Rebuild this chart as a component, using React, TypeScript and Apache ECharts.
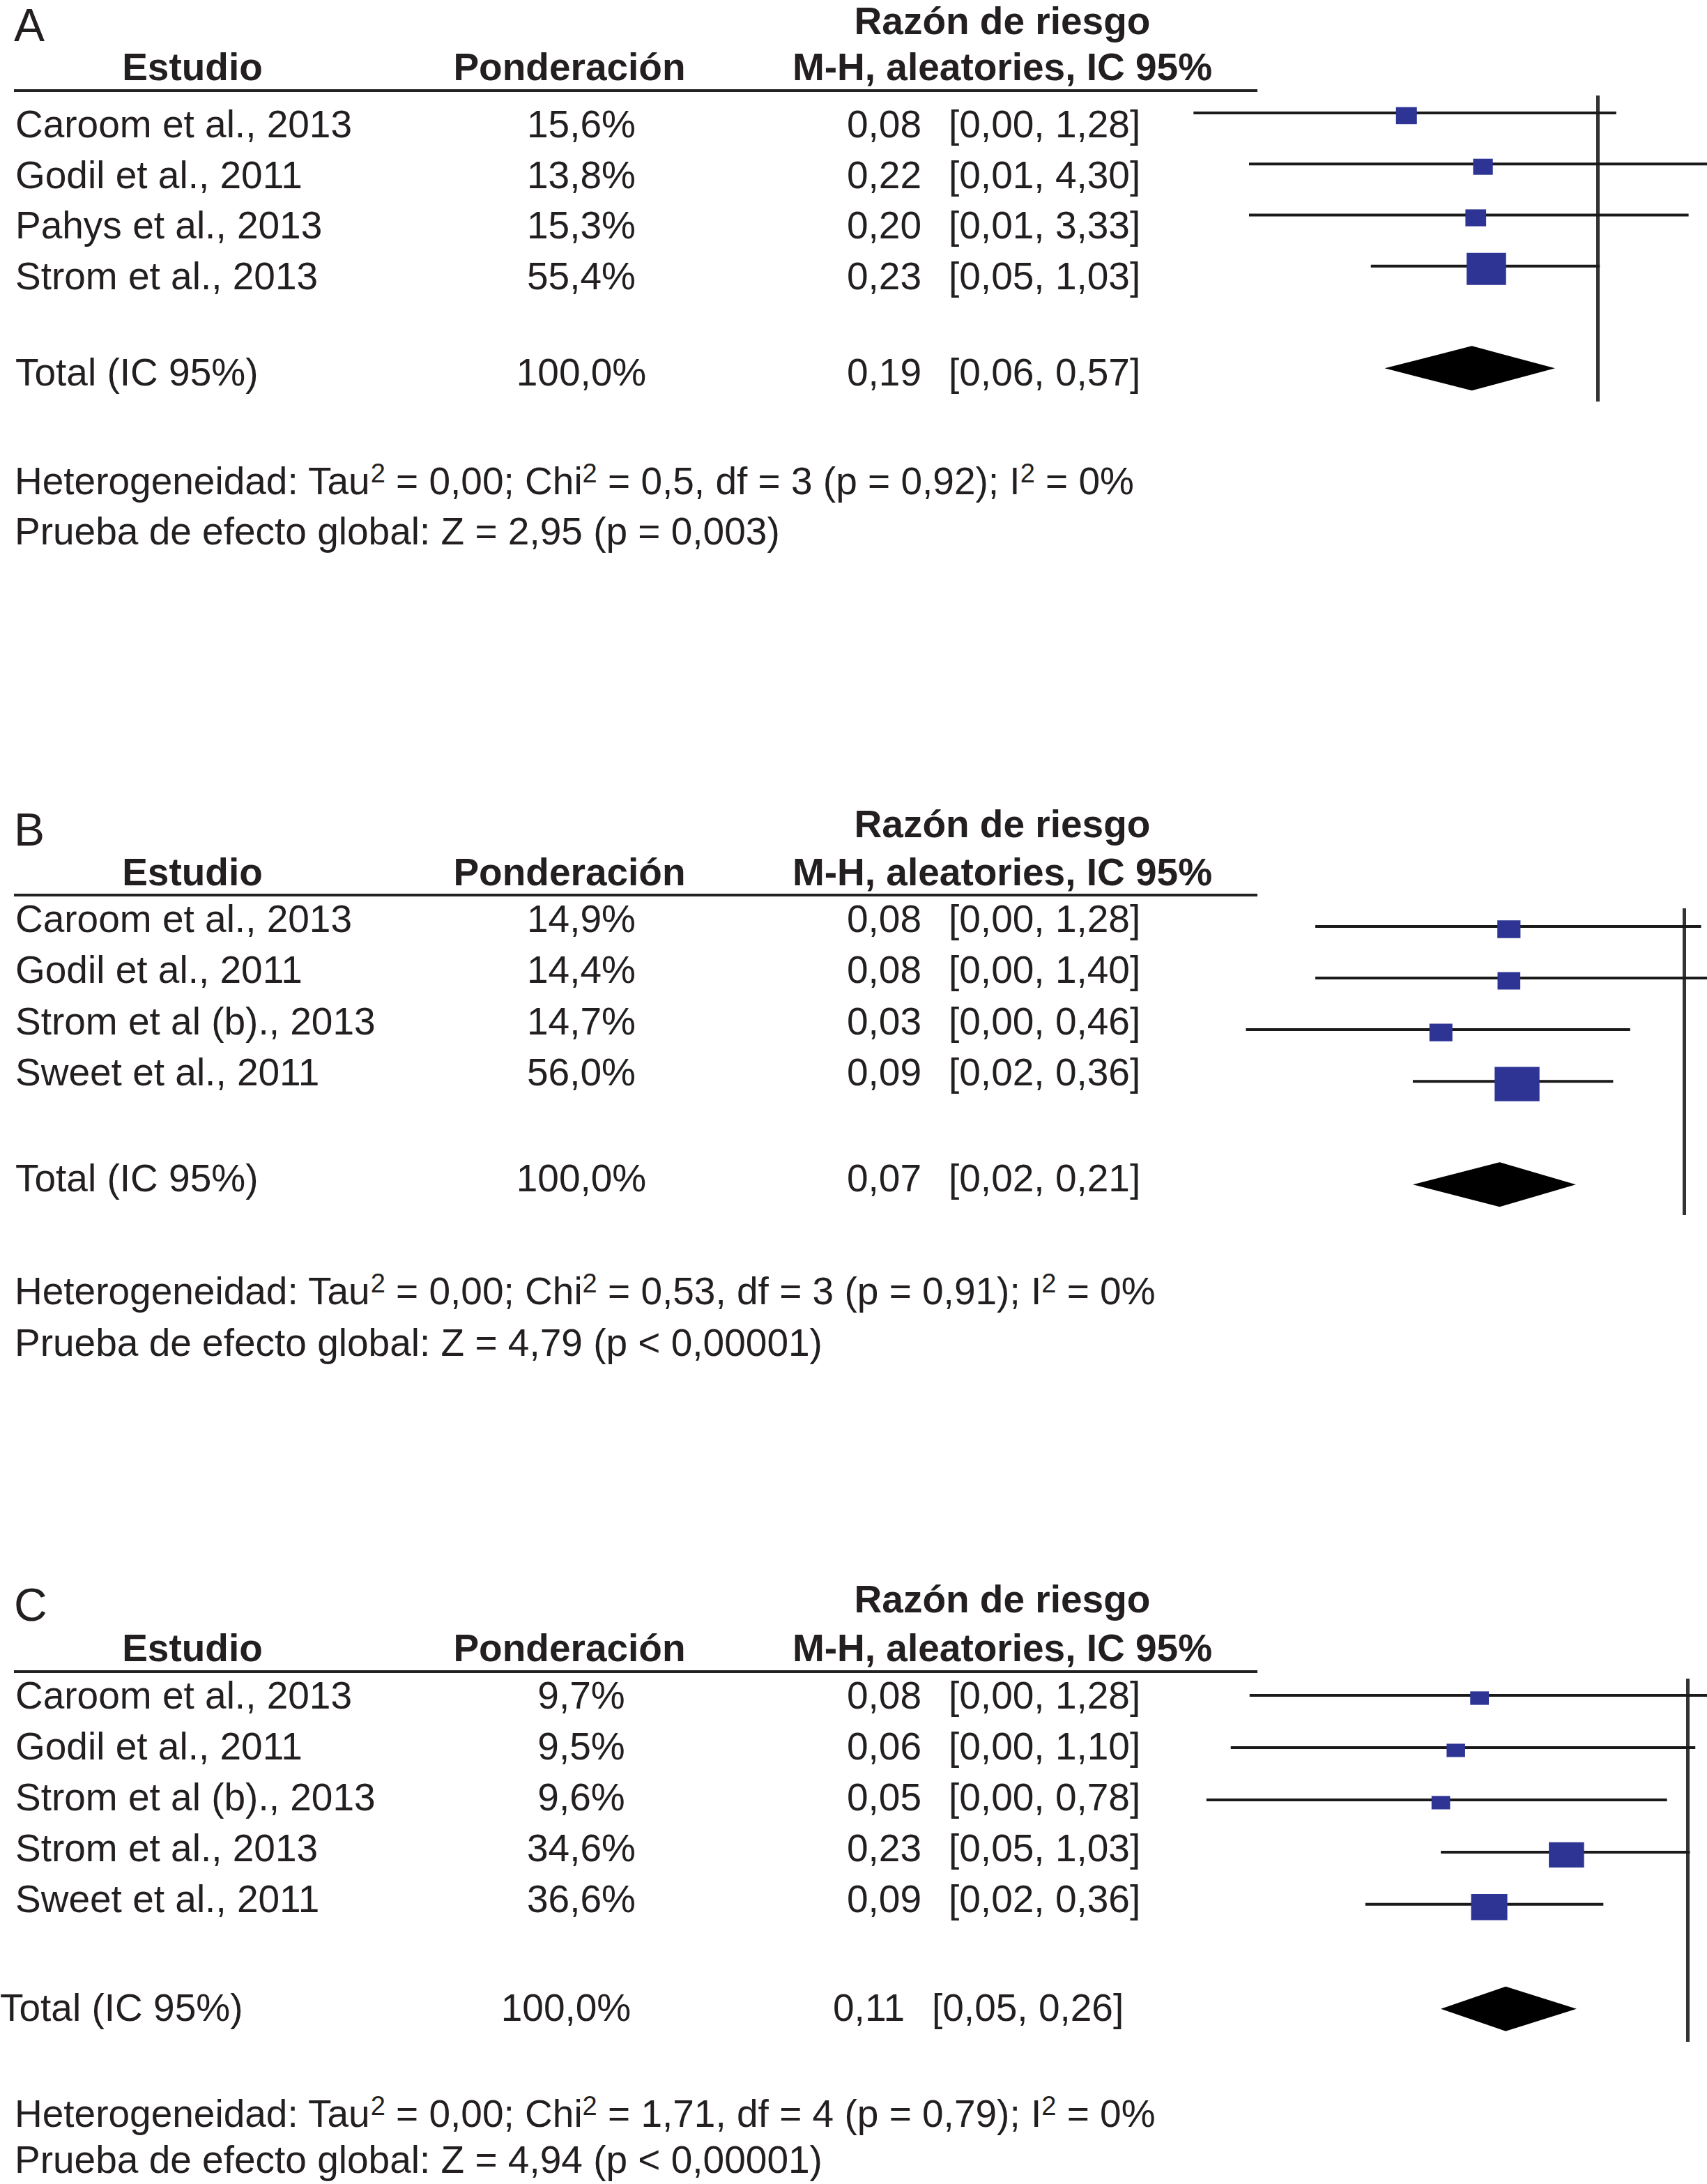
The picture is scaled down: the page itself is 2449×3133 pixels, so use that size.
import React, { useEffect, useRef } from "react";
import * as echarts from "echarts";

// ---------------- DATA ----------------
const panelLabels = ["A", "B", "C"];
const headTitle = "Razón de riesgo";
const headStudy = "Estudio";
const headWeight = "Ponderación";
const headEffect = "M-H, aleatories, IC 95%";
const totalLabel = "Total (IC 95%)";
const totalWeight = 100.0;

const studiesA = ["Caroom et al., 2013", "Godil et al., 2011", "Pahys et al., 2013", "Strom et al., 2013"];
const weightsA = [15.6, 13.8, 15.3, 55.4];
const rrA = [0.08, 0.22, 0.2, 0.23];
const lowerA = [0.0048, 0.01, 0.01, 0.05];
const upperA = [1.28, 4.3, 3.33, 1.03];
const totalA = [0.19, 0.06, 0.57];
const footA = [
  "Heterogeneidad: Tau{s|2} = 0,00; Chi{s|2} = 0,5, df = 3 (p = 0,92); I{s|2} = 0%",
  "Prueba de efecto global: Z = 2,95 (p = 0,003)",
];

const studiesB = ["Caroom et al., 2013", "Godil et al., 2011", "Strom et al (b)., 2013", "Sweet et al., 2011"];
const weightsB = [14.9, 14.4, 14.7, 56.0];
const rrB = [0.08, 0.08, 0.03, 0.09];
const lowerB = [0.0049, 0.0049, 0.0018, 0.02];
const upperB = [1.28, 1.4, 0.46, 0.36];
const totalB = [0.07, 0.02, 0.21];
const footB = [
  "Heterogeneidad: Tau{s|2} = 0,00; Chi{s|2} = 0,53, df = 3 (p = 0,91); I{s|2} = 0%",
  "Prueba de efecto global: Z = 4,79 (p < 0,00001)",
];

const studiesC = ["Caroom et al., 2013", "Godil et al., 2011", "Strom et al (b)., 2013", "Strom et al., 2013", "Sweet et al., 2011"];
const weightsC = [9.7, 9.5, 9.6, 34.6, 36.6];
const rrC = [0.08, 0.06, 0.05, 0.23, 0.09];
const lowerC = [0.0049, 0.0039, 0.0029, 0.05, 0.02];
const upperC = [1.28, 1.1, 0.78, 1.03, 0.36];
const totalC = [0.11, 0.05, 0.26];
const footC = [
  "Heterogeneidad: Tau{s|2} = 0,00; Chi{s|2} = 1,71, df = 4 (p = 0,79); I{s|2} = 0%",
  "Prueba de efecto global: Z = 4,94 (p < 0,00001)",
];

// ---------------- LAYOUT / STYLE ----------------
const W = 2449;
const H = 3133;
const FONT = '"Liberation Sans", Arial, Helvetica, sans-serif';
const TXT = "#231f20";
const BLUE = "#2d3494";

const layouts = [
  {
    labelY: 36, titleY: 30, headY: 96, ruleY: 130, rowY0: 178, rowStep: 72.7, totalY: 534,
    footY: [690, 762], refX: 2292, pxPerDec: 250, plotTop: 137, plotBottom: 576, yMin: -0.34, yMax: 5.65,
    sq: [7.6, 6.2], totalX: [0, 0],
  },
  {
    labelY: 1190, titleY: 1182, headY: 1251, ruleY: 1284, rowY0: 1318, rowStep: 73.3, totalY: 1690,
    footY: [1852, 1926], refX: 2416, pxPerDec: 229, plotTop: 1303, plotBottom: 1743, yMin: -0.35, yMax: 5.59,
    sq: [8.6, 6.6], totalX: [0, 0],
  },
  {
    labelY: 2302, titleY: 2294, headY: 2364, ruleY: 2398, rowY0: 2432, rowStep: 73, totalY: 2880,
    footY: [3032, 3098], refX: 2421, pxPerDec: 272, plotTop: 2408, plotBottom: 2929, yMin: -0.32, yMax: 6.63,
    sq: [8.6, 6.2], totalX: [-22, -24],
  },
];

const panels = [
  { studies: studiesA, weights: weightsA, rr: rrA, lower: lowerA, upper: upperA, total: totalA, foot: footA },
  { studies: studiesB, weights: weightsB, rr: rrB, lower: lowerB, upper: upperB, total: totalB, foot: footB },
  { studies: studiesC, weights: weightsC, rr: rrC, lower: lowerC, upper: upperC, total: totalC, foot: footC },
];

const PLOT_LEFT = 1700;
const COL_STUDY = 22;
const COL_WEIGHT = 834;
const COL_RR = 1322;
const COL_CI = 1361;
const HEAD_STUDY = 276;
const HEAD_WEIGHT = 817;
const HEAD_EFFECT = 1438;

const fmt = (v: number, d: number) => v.toFixed(d).replace(".", ",");

function text(x: number, y: number, s: string, align: string, opts: any = {}) {
  const style: any = {
    text: s,
    fontFamily: FONT,
    fontSize: opts.fontSize || 55,
    fontWeight: opts.bold ? "bold" : "normal",
    fill: TXT,
    align,
    verticalAlign: "middle",
    textAlign: align,
    textVerticalAlign: "middle",
  };
  if (opts.rich) {
    style.rich = opts.rich;
    style.lineHeight = 60;
  }
  return { type: "text", x, y, silent: true, style };
}

function buildOption() {
  const graphics: any[] = [];
  const grids: any[] = [];
  const xAxes: any[] = [];
  const yAxes: any[] = [];
  const series: any[] = [];
  const supRich = {
    s: { fontFamily: FONT, fontSize: 38, fill: TXT, verticalAlign: "top" },
  };

  panels.forEach((p, k) => {
    const L = layouts[k];
    graphics.push(text(20, L.labelY, panelLabels[k], "left", { fontSize: 66 }));
    graphics.push(text(HEAD_EFFECT, L.titleY, headTitle, "center", { bold: true }));
    graphics.push(text(HEAD_STUDY, L.headY, headStudy, "center", { bold: true }));
    graphics.push(text(HEAD_WEIGHT, L.headY, headWeight, "center", { bold: true }));
    graphics.push(text(HEAD_EFFECT, L.headY, headEffect, "center", { bold: true }));
    graphics.push({
      type: "line",
      silent: true,
      shape: { x1: 20, y1: L.ruleY, x2: 1804, y2: L.ruleY },
      style: { stroke: "#222", lineWidth: 4 },
    });
    p.studies.forEach((s, i) => {
      const y = L.rowY0 + i * L.rowStep;
      graphics.push(text(COL_STUDY, y, s, "left"));
      graphics.push(text(COL_WEIGHT, y, fmt(p.weights[i], 1) + "%", "center"));
      graphics.push(text(COL_RR, y, fmt(p.rr[i], 2), "right"));
      graphics.push(text(COL_CI, y, "[" + fmt(p.lower[i], 2) + ", " + fmt(p.upper[i], 2) + "]", "left"));
    });
    const tx = L.totalX;
    graphics.push(text(tx[0] === 0 ? COL_STUDY : 0, L.totalY, totalLabel, "left"));
    graphics.push(text(COL_WEIGHT + tx[0], L.totalY, fmt(totalWeight, 1) + "%", "center"));
    graphics.push(text(COL_RR + tx[1], L.totalY, fmt(p.total[0], 2), "right"));
    graphics.push(
      text(COL_CI + tx[1], L.totalY, "[" + fmt(p.total[1], 2) + ", " + fmt(p.total[2], 2) + "]", "left")
    );
    p.foot.forEach((f, j) => {
      graphics.push(text(21, L.footY[j], f, "left", { rich: supRich }));
    });

    // forest plot
    const minExp = -(L.refX - PLOT_LEFT) / L.pxPerDec;
    const maxExp = (W - L.refX) / L.pxPerDec;
    grids.push({ left: PLOT_LEFT, top: L.plotTop, width: W - PLOT_LEFT, height: L.plotBottom - L.plotTop, containLabel: false });
    xAxes.push({ type: "log", logBase: 10, gridIndex: k, min: Math.pow(10, minExp), max: Math.pow(10, maxExp), show: false });
    yAxes.push({ type: "value", gridIndex: k, min: L.yMin, max: L.yMax, inverse: true, show: false });

    const totalRow = p.studies.length + 1;

    series.push({
      type: "custom",
      xAxisIndex: k,
      yAxisIndex: k,
      clip: true,
      silent: true,
      z: 2,
      data: p.studies.map((_, i) => [p.lower[i], p.upper[i], i]),
      encode: { x: [0, 1], y: 2 },
      renderItem: (_params: any, api: any) => {
        const a = api.coord([api.value(0), api.value(2)]);
        const b = api.coord([api.value(1), api.value(2)]);
        return {
          type: "line",
          shape: { x1: a[0], y1: a[1], x2: b[0], y2: b[1] },
          style: { stroke: "#1a1a1a", lineWidth: 4 },
        };
      },
    });

    series.push({
      type: "scatter",
      xAxisIndex: k,
      yAxisIndex: k,
      silent: true,
      z: 3,
      symbol: "rect",
      symbolOffset: [0, 4],
      symbolSize: (val: number[]) => [L.sq[0] * Math.sqrt(val[2]), L.sq[1] * Math.sqrt(val[2])],
      itemStyle: { color: BLUE, opacity: 1 },
      data: p.studies.map((_, i) => [p.rr[i], i, p.weights[i]]),
      markLine: {
        silent: true,
        symbol: "none",
        label: { show: false },
        lineStyle: { color: "#333", width: 5, type: "solid" },
        data: [{ xAxis: 1 }],
        z: 1,
      },
    });

    series.push({
      type: "custom",
      xAxisIndex: k,
      yAxisIndex: k,
      clip: true,
      silent: true,
      z: 3,
      data: [[p.total[0], p.total[1], p.total[2], totalRow]],
      encode: { x: [0, 1, 2], y: 3 },
      renderItem: (_params: any, api: any) => {
        const c = api.coord([api.value(0), api.value(3)]);
        const l = api.coord([api.value(1), api.value(3)]);
        const r = api.coord([api.value(2), api.value(3)]);
        const h = 32;
        return {
          type: "polygon",
          shape: { points: [[l[0], c[1]], [c[0], c[1] - h], [r[0], c[1]], [c[0], c[1] + h]] },
          style: { fill: "#000" },
        };
      },
    });
  });

  return {
    animation: false,
    backgroundColor: "#ffffff",
    grid: grids,
    xAxis: xAxes,
    yAxis: yAxes,
    series,
    graphic: { elements: graphics },
  };
}

export default function App() {
  const ref = useRef<HTMLDivElement>(null);
  useEffect(() => {
    if (!ref.current) return;
    const chart = echarts.init(ref.current, null, { renderer: "svg" });
    chart.setOption(buildOption() as any);
    return () => chart.dispose();
  }, []);
  return (
    <div
      ref={ref}
      style={{ position: "absolute", left: 0, top: 0, width: W, height: H, background: "#fff" }}
    />
  );
}
